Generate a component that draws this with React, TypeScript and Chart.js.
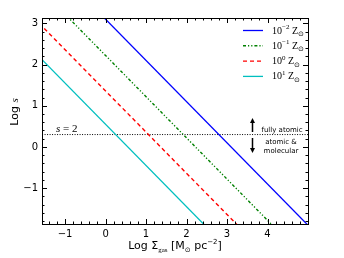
import React, { useEffect, useRef } from 'react';
import { Chart, registerables } from 'chart.js';
Chart.register(...registerables);

// Log Σ_gas endpoints (lines extend beyond the axes and are clipped)
const logSigmaEnds = [-2, 6];
// Log s values at those endpoints for each metallicity
const logS_Zm2 = [5.1, -2.9];
const logS_Zm1 = [4.22, -3.78];
const logS_Z0 = [3.36, -4.64];
const logS_Z1 = [2.55, -5.45];
// s = 2 threshold
const sEq2Line = [0.301, 0.301];

const xTicks = [-1, 0, 1, 2, 3, 4];
const yTicks = [-1, 0, 1, 2, 3];
const legendExps = ['−2', '−1', '0', '1'];

const X_MIN = -1.57, X_MAX = 5.0, Y_MIN = -1.87, Y_MAX = 3.13;

const SANS = '"DejaVu Sans", sans-serif';
const SERIF = '"Liberation Serif", "DejaVu Serif", serif';

type Seg = { t: string; f: string; dy?: number };

function richWidth(ctx: CanvasRenderingContext2D, segs: Seg[]) {
  let w = 0;
  for (const s of segs) { ctx.font = s.f; w += ctx.measureText(s.t).width; }
  return w;
}
function drawRich(ctx: CanvasRenderingContext2D, segs: Seg[], x: number, y: number, align: 'left' | 'center') {
  const w = richWidth(ctx, segs);
  let cx = align === 'center' ? x - w / 2 : x;
  ctx.textAlign = 'left';
  ctx.textBaseline = 'alphabetic';
  for (const s of segs) {
    ctx.font = s.f;
    ctx.fillText(s.t, cx, y + (s.dy || 0));
    cx += ctx.measureText(s.t).width;
  }
}

function toPoints(ys: number[]) {
  return logSigmaEnds.map((x, i) => ({ x, y: ys[i] }));
}

const overlay = {
  id: 'overlay',
  afterDatasetsDraw(chart: any) {
    const ctx: CanvasRenderingContext2D = chart.ctx;
    const { left, right, top, bottom } = chart.chartArea;
    const xs = chart.scales.x, ys = chart.scales.y;
    ctx.save();
    ctx.fillStyle = '#000';
    ctx.strokeStyle = '#000';
    ctx.lineWidth = 1;
    ctx.setLineDash([]);
    // frame
    ctx.strokeRect(Math.round(left) + 0.5, Math.round(top) + 0.5, Math.round(right - left), Math.round(bottom - top));
    // ticks
    ctx.beginPath();
    const minorStep = 0.2;
    for (let k = Math.ceil(X_MIN / minorStep); k * minorStep <= X_MAX + 1e-9; k++) {
      const v = k * minorStep;
      const major = Math.abs(v - Math.round(v)) < 1e-6;
      const len = major ? 5 : 2.5;
      const px = Math.round(xs.getPixelForValue(v)) + 0.5;
      ctx.moveTo(px, bottom); ctx.lineTo(px, bottom - len);
      ctx.moveTo(px, top); ctx.lineTo(px, top + len);
    }
    for (let k = Math.ceil(Y_MIN / minorStep); k * minorStep <= Y_MAX + 1e-9; k++) {
      const v = k * minorStep;
      const major = Math.abs(v - Math.round(v)) < 1e-6;
      const len = major ? 5 : 2.5;
      const py = Math.round(ys.getPixelForValue(v)) + 0.5;
      ctx.moveTo(left, py); ctx.lineTo(left + len, py);
      ctx.moveTo(right, py); ctx.lineTo(right - len, py);
    }
    ctx.stroke();

    // x axis title
    drawRich(ctx, [
      { t: 'Log Σ', f: `11px ${SANS}` },
      { t: 'gas', f: `7px ${SERIF}`, dy: 2.5 },
      { t: ' [M', f: `11px ${SANS}` },
      { t: '⊙', f: `7px ${SANS}`, dy: 2.5 },
      { t: ' pc', f: `11px ${SANS}` },
      { t: '−2', f: `7px ${SANS}`, dy: -5 },
      { t: ']', f: `11px ${SANS}` },
    ], (left + right) / 2, 249, 'center');

    // y axis title
    ctx.save();
    ctx.translate(18, 112);
    ctx.rotate(-Math.PI / 2);
    drawRich(ctx, [
      { t: 'Log ', f: `11px ${SANS}` },
      { t: 's', f: `italic 11px ${SERIF}` },
    ], 0, 0, 'center');
    ctx.restore();

    // s = 2 label
    drawRich(ctx, [
      { t: 's', f: `italic 11px ${SERIF}` },
      { t: ' = 2', f: `11px ${SERIF}` },
    ], 56, 132, 'left');

    // legend
    const rowY = [30, 45.3, 60.6, 75.9];
    const styles = chart.data.datasets.slice(0, 4);
    rowY.forEach((ry, i) => {
      const ds = styles[i];
      ctx.strokeStyle = ds.borderColor;
      ctx.lineWidth = ds.borderWidth;
      ctx.setLineDash(ds.borderDash || []);
      ctx.beginPath();
      ctx.moveTo(243, ry + 0.5);
      ctx.lineTo(263, ry + 0.5);
      ctx.stroke();
      ctx.setLineDash([]);
      ctx.fillStyle = '#000';
      drawRich(ctx, [
        { t: '10', f: `10px ${SERIF}` },
        { t: legendExps[i], f: `7px ${SERIF}`, dy: -4.5 },
        { t: ' Z', f: `10px ${SERIF}` },
        { t: '⊙', f: `7px ${SANS}`, dy: 2.5 },
      ], 272, ry + 3.5, 'left');
    });

    // annotations
    ctx.fillStyle = '#000';
    ctx.font = `7px ${SANS}`;
    ctx.textAlign = 'center';
    ctx.textBaseline = 'middle';
    ctx.fillText('fully atomic', 282, 130);
    ctx.fillText('atomic &', 281, 142);
    ctx.fillText('molecular', 281, 151);

    const arrow = (x: number, y0: number, y1: number) => {
      const dir = Math.sign(y1 - y0);
      ctx.strokeStyle = '#000';
      ctx.lineWidth = 1.5;
      ctx.beginPath();
      ctx.moveTo(x, y0);
      ctx.lineTo(x, y1 - dir * 3);
      ctx.stroke();
      ctx.beginPath();
      ctx.moveTo(x, y1);
      ctx.lineTo(x - 2.5, y1 - dir * 5);
      ctx.lineTo(x + 2.5, y1 - dir * 5);
      ctx.closePath();
      ctx.fill();
    };
    arrow(252.5, 132, 118);
    arrow(252.5, 138, 153);

    ctx.restore();
  },
};

export default function App() {
  const ref = useRef<HTMLCanvasElement | null>(null);
  useEffect(() => {
    if (!ref.current) return;
    const mk = (data: number[], color: string, width: number, dash: number[]) => ({
      data: toPoints(data),
      borderColor: color,
      backgroundColor: color,
      borderWidth: width,
      borderDash: dash,
      showLine: true,
      pointRadius: 0,
      fill: false,
    });
    const chart = new Chart(ref.current, {
      type: 'scatter',
      data: {
        datasets: [
          mk(logS_Zm2, '#0000ff', 1.3, []),
          mk(logS_Zm1, '#008000', 1.4, [3, 2, 1.2, 2, 1.2, 2]),
          mk(logS_Z0, '#ff0000', 1.4, [4, 3]),
          mk(logS_Z1, '#00bfbf', 1.3, []),
          mk(sEq2Line, '#000000', 1, [1, 1.5]),
        ] as any,
      },
      options: {
        animation: false,
        responsive: false,
        devicePixelRatio: 1,
        layout: { padding: { top: 18, right: 36, left: 0, bottom: 0 } },
        plugins: { legend: { display: false }, tooltip: { enabled: false }, title: { display: false } },
        scales: {
          x: {
            type: 'linear',
            min: X_MIN,
            max: X_MAX,
            grid: { display: false, drawTicks: false },
            border: { display: false },
            afterBuildTicks: (s: any) => { s.ticks = xTicks.map((v) => ({ value: v })); },
            afterFit: (s: any) => { s.height = 34; },
            ticks: {
              padding: 4,
              color: '#000',
              font: { family: 'DejaVu Sans', size: 10 },
              maxRotation: 0,
              autoSkip: false,
              callback: (v: any) => String(v).replace('-', '−'),
            },
          },
          y: {
            type: 'linear',
            min: Y_MIN,
            max: Y_MAX,
            grid: { display: false, drawTicks: false },
            border: { display: false },
            afterBuildTicks: (s: any) => { s.ticks = yTicks.map((v) => ({ value: v })); },
            afterFit: (s: any) => { s.width = 42; },
            ticks: {
              padding: 4,
              color: '#000',
              font: { family: 'DejaVu Sans', size: 10 },
              autoSkip: false,
              callback: (v: any) => String(v).replace('-', '−'),
            },
          },
        },
      } as any,
      plugins: [overlay],
    });
    return () => chart.destroy();
  }, []);
  return (
    <div style={{ position: 'fixed', left: 0, top: 0, width: 344, height: 258, background: '#fff' }}>
      <canvas ref={ref} width={344} height={258} style={{ width: 344, height: 258 }} />
    </div>
  );
}
